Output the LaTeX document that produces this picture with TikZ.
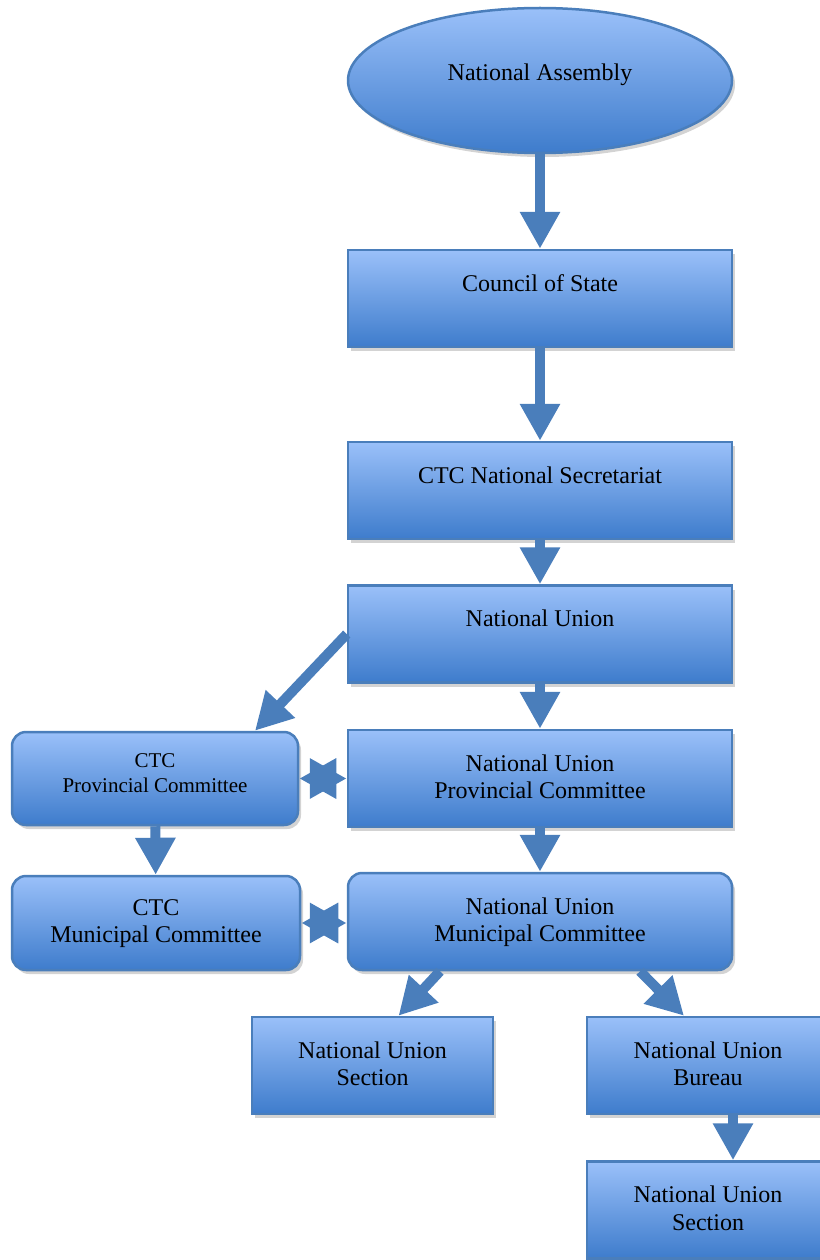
\documentclass[tikz,border=0pt]{standalone}
\usepackage{fontspec}
\setmainfont{Liberation Serif}
\usetikzlibrary{%
  arrows.meta,
  shapes.geometric,
  shadows,
}

\definecolor{edgeblue}{RGB}{74,126,187}
\definecolor{boxtop}{RGB}{154,192,249}
\definecolor{boxbottom}{RGB}{62,124,204}

% first line of a box sits on the baseline
\newcommand{\boxlines}[1]{\begin{tabular}[t]{@{}c@{}}#1\end{tabular}}

\tikzset{
  orgbox/.style={rectangle, draw=edgeblue, line width=2.5pt,
    top color=boxtop, bottom color=boxbottom,
    drop shadow={shadow xshift=3pt, shadow yshift=-4pt, opacity=.35},
    inner sep=0pt, font=\fontsize{24}{27.5}\selectfont,
    text height=41pt, text depth=56pt},
  roundbox/.style={orgbox, rounded corners=14pt},
  orgoval/.style={ellipse, draw=edgeblue, line width=2.5pt,
    top color=boxtop, bottom color=boxbottom,
    drop shadow={shadow xshift=3pt, shadow yshift=-4pt, opacity=.35},
    inner sep=0pt, minimum width=384pt, minimum height=145pt,
    font=\fontsize{24}{27.5}\selectfont,
    text height=16pt, text depth=16pt},
  flow/.style={draw=edgeblue, line width=10pt,
    -{Triangle[width=38pt,length=37pt]}},
  twoway/.style={flow,
    {Triangle[width=38pt,length=37pt]}-{Triangle[width=38pt,length=37pt]}},
}

\begin{document}
\begin{tikzpicture}[x=1pt, y=1pt]
  \useasboundingbox (0,0) rectangle (819,-1260);

  % main column
  \node[orgoval] (assembly) at (540,-80.5) {National Assembly};
  \node[orgbox, minimum width=384pt] (council) at (540,-298.5)
    {\boxlines{Council of State}};
  \node[orgbox, minimum width=384pt] (secretariat) at (540,-490.5)
    {\boxlines{CTC National Secretariat}};
  \node[orgbox, minimum width=384pt] (union) at (540,-634)
    {\boxlines{National Union}};
  \node[orgbox, minimum width=384pt] (nuprov) at (540,-778.5)
    {\boxlines{National Union\\Provincial Committee}};
  \node[roundbox, minimum width=384pt] (numun) at (540,-921.5)
    {\boxlines{National Union\\Municipal Committee}};

  % CTC side
  \node[roundbox, minimum width=286pt, text height=35pt, text depth=58pt,
    font=\fontsize{21}{25}\selectfont] (ctcprov) at (155,-778.5)
    {\boxlines{CTC\\Provincial Committee}};
  \node[roundbox, minimum width=288pt, text height=39pt, text depth=55pt]
    (ctcmun) at (156,-923)
    {\boxlines{CTC\\Municipal Committee}};

  % lower level
  \node[orgbox, minimum width=241pt] (nusection) at (372.5,-1065.5)
    {\boxlines{National Union\\Section}};
  \node[orgbox, minimum width=242pt] (nubureau) at (708,-1065.5)
    {\boxlines{National Union\\Bureau}};
  \node[orgbox, minimum width=242pt] (busection) at (708,-1210)
    {\boxlines{National Union\\Section}};

  \draw[flow] (assembly) -- (council);
  \draw[flow] (council) -- (secretariat);
  \draw[flow] (secretariat) -- (union);
  \draw[flow] (union) -- (nuprov);
  \draw[flow] (nuprov) -- (numun);
  \draw[flow] (union.west) -- ([xshift=100pt]ctcprov.north);
  \draw[flow] (ctcprov) -- (ctcmun);
  \draw[twoway] (ctcprov.east) -- (nuprov.west);
  \draw[twoway] (ctcmun.east) -- (ctcmun.east -| numun.west);
  \draw[flow] ([xshift=-100pt]numun.south) -- ([xshift=26pt]nusection.north);
  \draw[flow] ([xshift=100pt]numun.south) -- ([xshift=-24pt]nubureau.north);
  \draw[flow] ([xshift=25pt]nubureau.south) -- ([xshift=25pt]busection.north);
\end{tikzpicture}
\end{document}
